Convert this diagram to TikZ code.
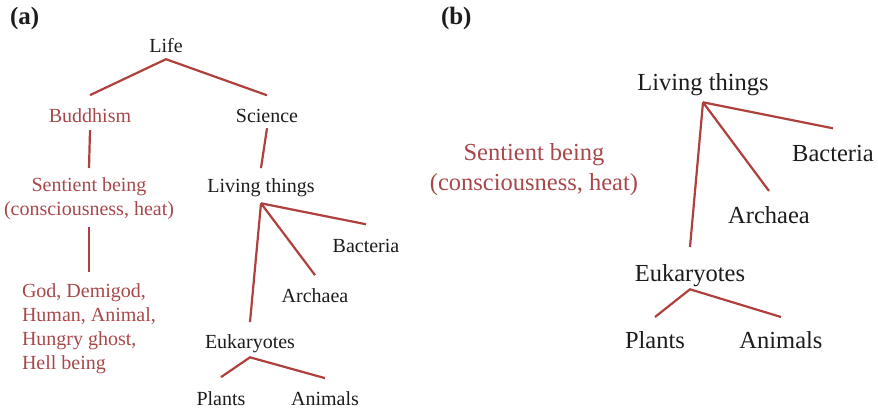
\documentclass[tikz,border=0pt]{standalone}
\usepackage{fontspec}
\setmainfont{Liberation Serif}
\definecolor{branch}{HTML}{B0403E}
\definecolor{belief}{HTML}{A8484A}
\definecolor{ink}{HTML}{1C1C1C}

\begin{document}
\begin{tikzpicture}[x=1pt,y=-1pt,
  every node/.style={inner sep=0pt, outer sep=0pt, text=ink},
  sm/.style={font=\fontsize{20}{24}\selectfont},
  lg/.style={font=\fontsize{24.5}{30}\selectfont},
  rel/.style={text=belief},
  link/.style={draw=branch, line width=2.2pt, line join=miter},
  tag/.style={font=\fontsize{25}{30}\selectfont\bfseries}]

% canvas
\fill[white] (0,0) rectangle (878,410);
\useasboundingbox (0,0) rectangle (878,410);

% ---------- panel (a) ----------
\node[tag, anchor=base west] (tagA) at (10,24) {(a)};
\node[sm, anchor=base] (life) at (166,52) {Life};
\node[sm, rel, anchor=base] (bud) at (90,122) {Buddhism};
\node[sm, anchor=base] (sci) at (267,122) {Science};
\node[sm, rel, anchor=north, align=center] (sentA) at (89,178) {Sentient being\\(consciousness, heat)};
\node[sm, anchor=base] (livA) at (261,192) {Living things};
\node[sm, rel, anchor=north west, align=left] (realms) at (22,284) {God, Demigod,\\Human, Animal,\\Hungry ghost,\\Hell being};
\node[sm, anchor=base] (bacA) at (366,252) {Bacteria};
\node[sm, anchor=base] (arcA) at (315,302) {Archaea};
\node[sm, anchor=base] (eukA) at (250,348) {Eukaryotes};
\node[sm, anchor=base] (plaA) at (221,405) {Plants};
\node[sm, anchor=base] (aniA) at (325,405) {Animals};

\coordinate (lifeJ) at ([yshift=-7pt]life.south);
\draw[link] ([yshift=13pt]bud.north) -- (lifeJ) -- ([yshift=13.5pt]sci.north);
\draw[link] ([yshift=-8pt]bud.south) -- ([yshift=10pt]sentA.north);
\draw[link] ([yshift=-6pt]sci.south) -- ([yshift=10pt]livA.north);
\draw[link] ([yshift=-7pt]sentA.south) -- ([yshift=12pt]realms.north -| sentA.south);

\coordinate (livAJ) at ([yshift=-7pt]livA.south);
\draw[link] (livAJ) -- ([yshift=14.5pt]bacA.north);
\draw[link] (livAJ) -- ([yshift=13pt]arcA.north);
\draw[link] (livAJ) -- ([yshift=12pt]eukA.north);

\coordinate (eukAJ) at ([yshift=-5pt]eukA.south);
\draw[link] ([yshift=14pt]plaA.north) -- (eukAJ) -- ([yshift=13pt]aniA.north);

% ---------- panel (b) ----------
\node[tag, anchor=base west] (tagB) at (441,24) {(b)};
\node[lg, anchor=base] (livB) at (703,90) {Living things};
\node[lg, rel, anchor=north, align=center] (sentB) at (534,143) {Sentient being\\(consciousness, heat)};
\node[lg, anchor=base] (bacB) at (833,161) {Bacteria};
\node[lg, anchor=base] (arcB) at (769,223) {Archaea};
\node[lg, anchor=base] (eukB) at (690,281) {Eukaryotes};
\node[lg, anchor=base] (plaB) at (655,348) {Plants};
\node[lg, anchor=base] (aniB) at (781,348) {Animals};

\coordinate (livBJ) at ([yshift=-7pt]livB.south);
\draw[link] (livBJ) -- ([yshift=16.5pt]bacB.north);
\draw[link] (livBJ) -- ([yshift=15pt]arcB.north);
\draw[link] (livBJ) -- ([yshift=17pt]eukB.north);

\coordinate (eukBJ) at ([yshift=-3pt]eukB.south);
\draw[link] ([yshift=14pt]plaB.north) -- (eukBJ) -- ([yshift=14pt]aniB.north);
\end{tikzpicture}
\end{document}
